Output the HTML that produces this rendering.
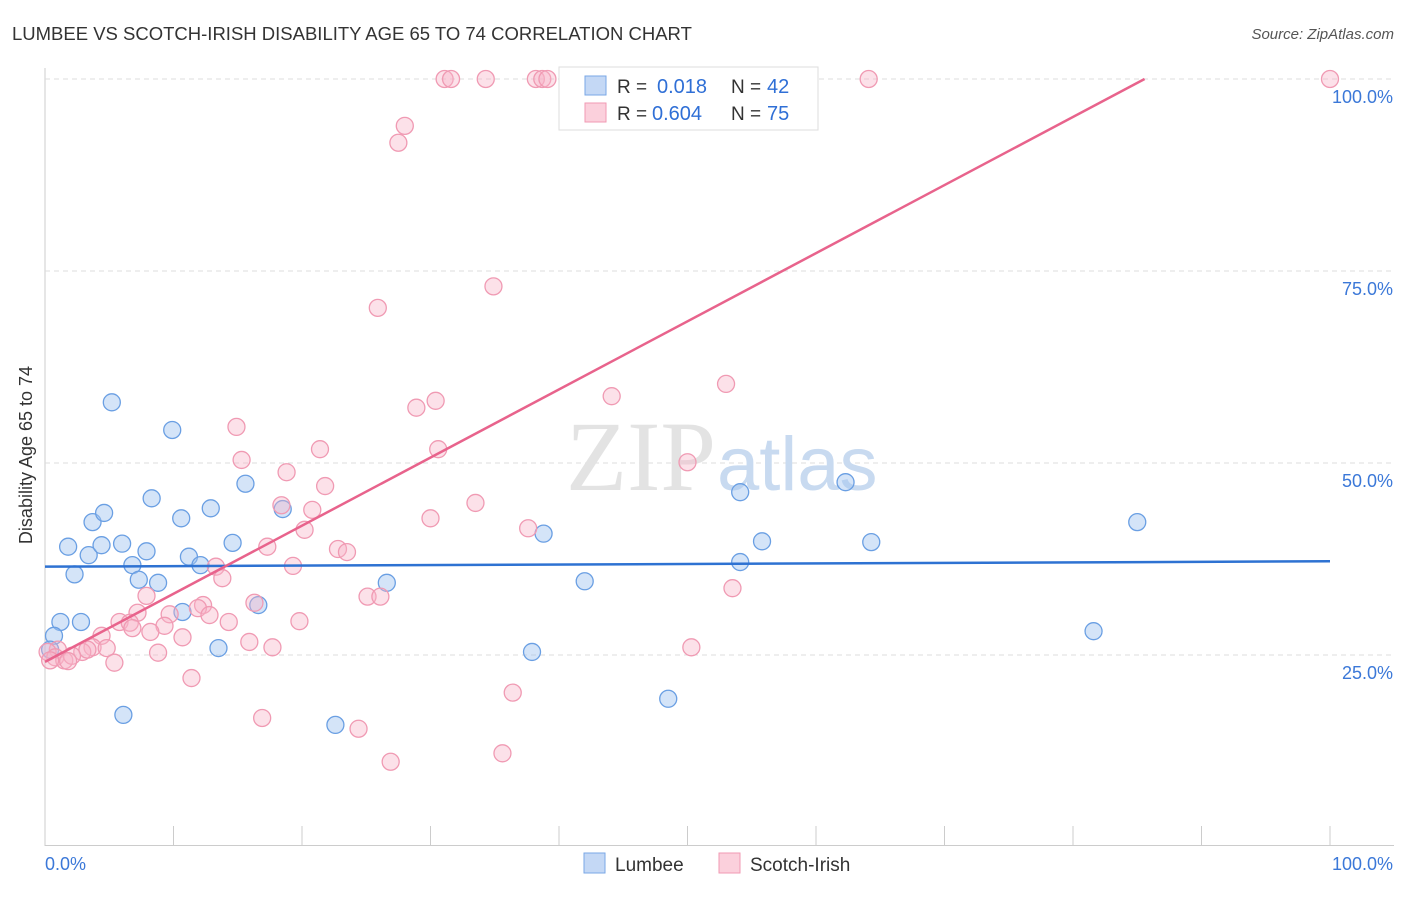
<!DOCTYPE html>
<html><head><meta charset="utf-8"><style>
body{margin:0;background:#fff;font-family:"Liberation Sans",sans-serif}
</style></head><body>
<svg width="1406" height="892" xmlns="http://www.w3.org/2000/svg">
<text x="12" y="40" font-size="18.5" fill="#333">LUMBEE VS SCOTCH-IRISH DISABILITY AGE 65 TO 74 CORRELATION CHART</text>
<text x="1394" y="39" font-size="15" fill="#555" font-style="italic" text-anchor="end">Source: ZipAtlas.com</text>
<g id="grid"></g>
<text x="716" y="490" font-size="100" font-family="Liberation Serif,serif" fill="#e3e3e3" text-anchor="end">ZIP</text>
<text x="717" y="490" font-size="76" fill="#c8daf0">atlas</text>
<g id="pts"></g>
<g id="lines"></g>
<text x="32" y="455" font-size="18" fill="#333" transform="rotate(-90 32 455)" text-anchor="middle">Disability Age 65 to 74</text>
<g>
<rect x="559" y="67" width="259" height="63" fill="#fff" stroke="#ddd"/>
<rect x="585" y="76" width="21" height="19" fill="#c4d8f5" stroke="#7aa7e6"/>
<rect x="585" y="103" width="21" height="19" fill="#fbd0dc" stroke="#f09ab3"/>
<text x="617" y="93" font-size="19" fill="#333">R = </text><text x="657" y="93" font-size="20" fill="#2f6fd6">0.018</text>
<text x="731" y="93" font-size="19" fill="#333">N = </text><text x="767" y="93" font-size="20" fill="#2f6fd6">42</text>
<text x="617" y="120" font-size="19" fill="#333">R = </text><text x="652" y="120" font-size="20" fill="#2f6fd6">0.604</text>
<text x="731" y="120" font-size="19" fill="#333">N = </text><text x="767" y="120" font-size="20" fill="#2f6fd6">75</text>
</g>
<g>
<rect x="584" y="853" width="21" height="20" fill="#c4d8f5" stroke="#7aa7e6"/>
<text x="615" y="871" font-size="19" fill="#333">Lumbee</text>
<rect x="719" y="853" width="21" height="20" fill="#fbd0dc" stroke="#f09ab3"/>
<text x="750" y="871" font-size="19" fill="#333">Scotch-Irish</text>
</g>
</svg>
<script>
const yTicks=[25,50,75,100];
const xTickLabels=["0.0%","100.0%"];
const blueX=[5.2,9.9,8.3,3.7,4.6,10.6,12.9,15.6,1.8,3.4,4.4,6.0,7.9,2.3,6.8,11.2,12.1,14.6,7.3,8.8,10.7,16.6,1.2,2.8,0.7,0.4,13.5,6.1,22.6,26.6,38.8,37.9,42.0,48.5,54.1,54.1,55.8,62.3,64.3,81.6,85.0,18.5];
const blueY=[57.9,54.3,45.4,42.3,43.5,42.8,44.1,47.3,39.1,38.0,39.3,39.5,38.5,35.5,36.7,37.8,36.7,39.6,34.8,34.4,30.6,31.5,29.3,29.3,27.5,25.7,25.9,17.2,15.9,34.4,40.8,25.4,34.6,19.3,46.2,37.1,39.8,47.5,39.7,28.1,42.3,44.0];
const pinkX=[31.1,31.6,34.3,38.2,38.7,39.1,64.1,100,28.0,27.5,34.9,25.9,53.0,44.1,30.4,28.9,14.9,21.4,30.6,15.3,50.0,18.8,21.8,33.5,18.4,20.8,30.0,37.6,20.2,17.3,22.8,23.5,13.3,19.3,13.8,53.5,7.9,25.1,26.1,16.3,12.3,11.9,7.2,12.8,9.7,5.8,6.6,14.3,19.8,9.3,6.8,8.2,4.4,10.7,15.9,17.7,3.7,4.8,2.9,3.3,1.0,0.2,0.8,1.5,2.1,8.8,5.4,11.4,50.3,36.4,16.9,24.4,35.6,26.9,1.8,0.4];
const pinkY=[100,100,100,100,100,100,100,100,93.9,91.7,73.0,70.2,60.3,58.7,58.1,57.2,54.7,51.8,51.8,50.4,50.1,48.8,47.0,44.8,44.5,43.9,42.8,41.5,41.3,39.1,38.8,38.4,36.5,36.6,35.0,33.7,32.7,32.6,32.6,31.8,31.5,31.1,30.5,30.2,30.3,29.3,29.2,29.3,29.4,28.8,28.5,28.0,27.5,27.3,26.7,26.0,26.0,25.9,25.4,25.7,25.7,25.4,24.7,24.3,24.9,25.3,24.0,22.0,26.0,20.1,16.8,15.4,12.2,11.1,24.2,24.3];
const blueLine=[36.5,37.2];
const pinkLine=[24.1,0.887];
const NS="http://www.w3.org/2000/svg";
const sx=v=>45+v*12.85, sy=v=>847-v*7.68;
function mk(t,a,p){const e=document.createElementNS(NS,t);for(const k in a)e.setAttribute(k,a[k]);p.appendChild(e);return e;}
const grid=document.getElementById('grid');
mk('line',{x1:45,y1:68,x2:45,y2:846,stroke:'#ccc'},grid);
mk('line',{x1:45,y1:845.5,x2:1394,y2:845.5,stroke:'#ccc'},grid);
for(let i=1;i<=10;i++){const l=mk('line',{x1:45+i*128.5,y1:826,x2:45+i*128.5,y2:846,stroke:'#ccc'},grid);

}
yTicks.forEach(v=>{const l=mk('line',{x1:45,y1:sy(v),x2:1394,y2:sy(v),stroke:'#ddd','stroke-dasharray':'5,4'},grid);


const t=mk('text',{x:1393,y:sy(v)+24,'font-size':18,fill:'#3b78d8','text-anchor':'end'},grid);t.textContent=v.toFixed(1)+'%';

});
xTickLabels.forEach((s,i)=>{const t=mk('text',{x:i?1393:45,y:870,'font-size':18,fill:'#3b78d8','text-anchor':i?'end':'start'},grid);t.textContent=s;

});
const pts=document.getElementById('pts');
blueX.forEach((x,i)=>{const c=mk('circle',{cx:sx(x),cy:sy(blueY[i]),r:8.5,fill:'rgba(160,196,240,0.45)',stroke:'#6a9fe3','stroke-width':1.3},pts);

});
pinkX.forEach((x,i)=>{const c=mk('circle',{cx:sx(x),cy:sy(pinkY[i]),r:8.5,fill:'rgba(248,180,200,0.4)',stroke:'#f09ab3','stroke-width':1.3},pts);

});
const lines=document.getElementById('lines');
const bl=mk('line',{x1:sx(0),y1:sy(blueLine[0]),x2:sx(100),y2:sy(blueLine[1]),stroke:'#2e72d2','stroke-width':2.5},lines);


const xe=(100-pinkLine[0])/pinkLine[1];
const pl=mk('line',{x1:sx(0),y1:sy(pinkLine[0]),x2:sx(xe),y2:sy(100),stroke:'#e8638c','stroke-width':2.5},lines);


</script>
</body></html>
